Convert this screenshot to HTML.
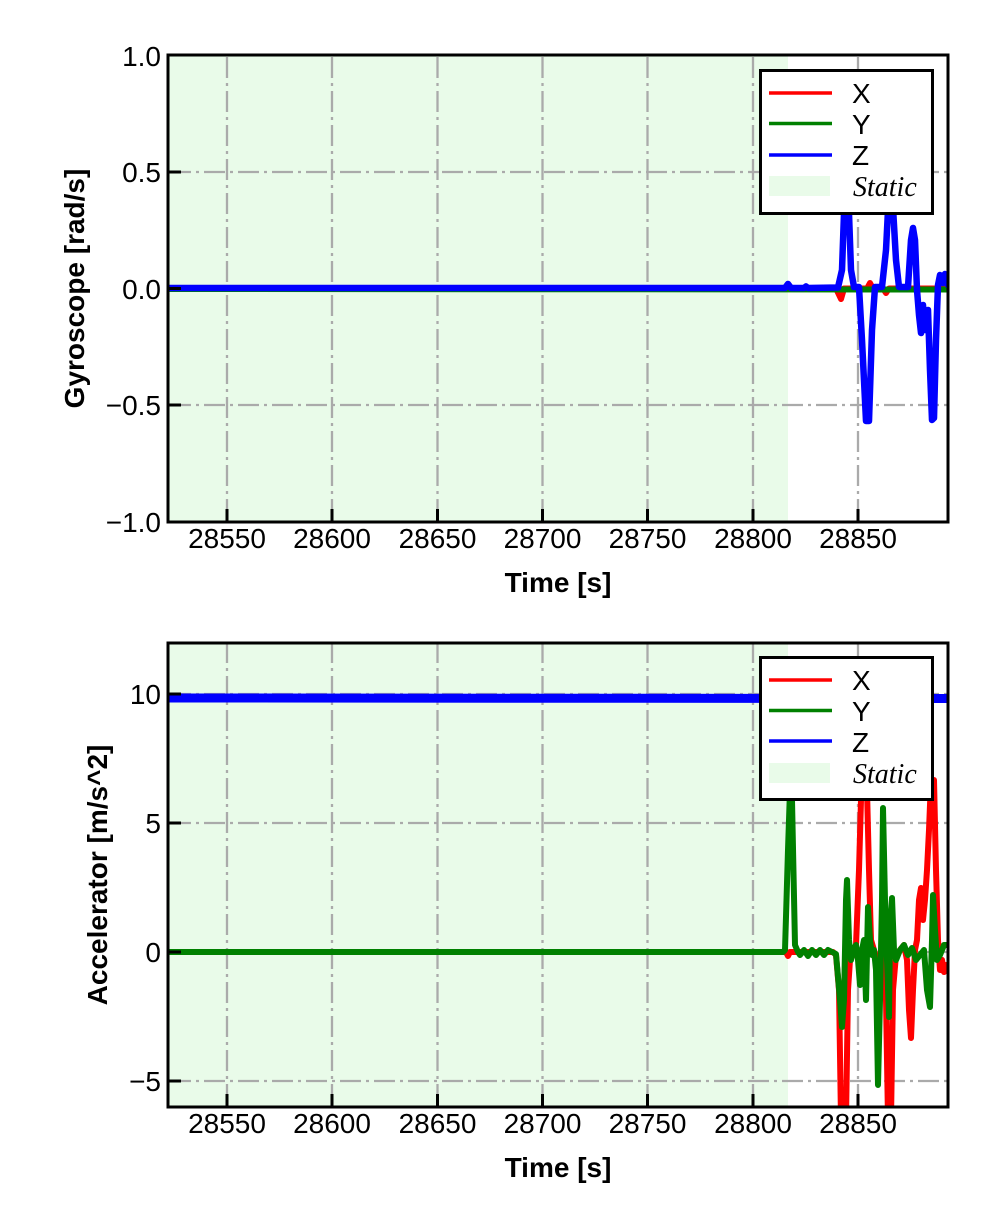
<!DOCTYPE html>
<html><head><meta charset="utf-8"><style>
html,body{margin:0;padding:0;background:#fff;}
svg{display:block;}
text{font-family:"Liberation Sans",Arial,sans-serif;fill:#000;}
.tl{font-size:28px;}
.lab{font-size:28px;font-weight:bold;}
.st{font-family:"Liberation Serif",serif;font-style:italic;font-size:28px;}
.grid{stroke:#aaaaaa;stroke-width:2.3;stroke-dasharray:21,5,3,5;stroke-dashoffset:-2;fill:none;}
.tick{stroke:#000;stroke-width:3;}
</style></head><body>
<svg width="992" height="1228" viewBox="0 0 992 1228" xmlns="http://www.w3.org/2000/svg">
<defs>
<clipPath id="c1"><rect x="168" y="55" width="780" height="467"/></clipPath>
<clipPath id="c2"><rect x="168" y="643" width="780" height="464"/></clipPath>
</defs>

<!-- ===== TOP PLOT ===== -->
<rect x="168" y="55" width="620" height="467" fill="#e9fbe9"/>
<g class="grid">
<line x1="227" y1="522" x2="227" y2="55"/>
<line x1="332" y1="522" x2="332" y2="55"/>
<line x1="437.5" y1="522" x2="437.5" y2="55"/>
<line x1="542.5" y1="522" x2="542.5" y2="55"/>
<line x1="647.5" y1="522" x2="647.5" y2="55"/>
<line x1="753" y1="522" x2="753" y2="55"/>
<line x1="858" y1="522" x2="858" y2="55"/>
<line x1="168" y1="172" x2="948" y2="172"/>
<line x1="168" y1="288.5" x2="948" y2="288.5"/>
<line x1="168" y1="405" x2="948" y2="405"/>
</g>
<g clip-path="url(#c1)" fill="none" stroke-linejoin="round" stroke-linecap="round">
<polyline stroke="#ff0000" stroke-width="6" points="168,288.5 836,288.5 841,299 844,288.5 867,288.5 870,283 873,288.5 883,288.5 886,293 889,288.5 948,288.5"/>
<polyline stroke="#008000" stroke-width="6" points="168,289 948,289.5"/>
<polyline stroke="#0000ff" stroke-width="6.5" points="168,288 785,288 788,284 791,288 804,288 806,286.5 808,288 838,287.5 842,270 845,185 848,185 851,270 854,287 859,287 862,340 866,421 869,421 872,330 875,287 882,287 886,250 889,190 892,190 896,260 899,287 908,287 911,240 913,228 915,240 917,290 919,315 921,333 923,305 925,330 928,310 930,370 932,420 934,418 936,340 938,285 940,275 942,278 943,283 945,274 947,280 948,285"/>
</g>
<rect x="168" y="55" width="780" height="467" fill="none" stroke="#000" stroke-width="3"/>
<g class="tick">
<line x1="227" y1="522" x2="227" y2="509"/>
<line x1="332" y1="522" x2="332" y2="509"/>
<line x1="437.5" y1="522" x2="437.5" y2="509"/>
<line x1="542.5" y1="522" x2="542.5" y2="509"/>
<line x1="647.5" y1="522" x2="647.5" y2="509"/>
<line x1="753" y1="522" x2="753" y2="509"/>
<line x1="858" y1="522" x2="858" y2="509"/>
<line x1="168" y1="55" x2="181" y2="55"/>
<line x1="168" y1="172" x2="181" y2="172"/>
<line x1="168" y1="288.5" x2="181" y2="288.5"/>
<line x1="168" y1="405" x2="181" y2="405"/>
<line x1="168" y1="522" x2="181" y2="522"/>
</g>
<g class="tl" text-anchor="end">
<text x="161" y="66">1.0</text>
<text x="161" y="182">0.5</text>
<text x="161" y="299">0.0</text>
<text x="161" y="415">−0.5</text>
<text x="161" y="532">−1.0</text>
</g>
<g class="tl" text-anchor="middle">
<text x="227" y="548">28550</text>
<text x="332" y="548">28600</text>
<text x="437.5" y="548">28650</text>
<text x="542.5" y="548">28700</text>
<text x="647.5" y="548">28750</text>
<text x="753" y="548">28800</text>
<text x="858" y="548">28850</text>
</g>
<text class="lab" x="558" y="592" text-anchor="middle">Time [s]</text>
<text class="lab" transform="translate(84,288.5) rotate(-90)" text-anchor="middle">Gyroscope [rad/s]</text>
<!-- legend top -->
<rect x="760.5" y="70.5" width="172" height="143" fill="#fff" stroke="#000" stroke-width="3"/>
<line x1="769" y1="93" x2="832" y2="93" stroke="#ff0000" stroke-width="3.5"/>
<line x1="769" y1="123.5" x2="832" y2="123.5" stroke="#008000" stroke-width="3.5"/>
<line x1="769" y1="155" x2="832" y2="155" stroke="#0000ff" stroke-width="3.5"/>
<rect x="769" y="176" width="61" height="20" fill="#e9fbe9"/>
<text class="tl" x="852" y="103">X</text>
<text class="tl" x="852" y="134">Y</text>
<text class="tl" x="852" y="165">Z</text>
<text class="st" x="853" y="196">Static</text>

<!-- ===== BOTTOM PLOT ===== -->
<rect x="168" y="643" width="620" height="464" fill="#e9fbe9"/>
<g class="grid">
<line x1="227" y1="1107" x2="227" y2="643"/>
<line x1="332" y1="1107" x2="332" y2="643"/>
<line x1="437.5" y1="1107" x2="437.5" y2="643"/>
<line x1="542.5" y1="1107" x2="542.5" y2="643"/>
<line x1="647.5" y1="1107" x2="647.5" y2="643"/>
<line x1="753" y1="1107" x2="753" y2="643"/>
<line x1="858" y1="1107" x2="858" y2="643"/>
<line x1="168" y1="694" x2="948" y2="694"/>
<line x1="168" y1="823" x2="948" y2="823"/>
<line x1="168" y1="952" x2="948" y2="952"/>
<line x1="168" y1="1081" x2="948" y2="1081"/>
</g>
<g clip-path="url(#c2)" fill="none" stroke-linejoin="round" stroke-linecap="round">
<polyline stroke="#0000ff" stroke-width="9" points="168,698 948,698.5"/>
<polyline stroke="#ff0000" stroke-width="6" points="168,952 786,952 788,956 790,952 833,952 836,955 839,990 841,1120 846,1120 848,990 850,960 853,955 856,945 859,870 861,800 864,780 867,790 869,870 871,940 874,950 877,960 880,955 883,950 886,1000 888,1120 891,1120 893,990 896,955 900,950 904,945 907,960 909,1010 911,1038 913,990 915,950 917,940 919,900 921,888 923,920 925,900 927,870 929,830 931,780 934,780 936,870 938,940 940,970 942,960 944,972 946,965 948,970"/>
<polyline stroke="#008000" stroke-width="6" points="168,952 783,952 785,950 788,850 790,790 792,800 795,945 798,952 800,955 804,950 808,956 812,950 816,955 820,950 824,955 828,950 832,952 836,954 840,1000 842,1027 844,1000 846,900 847,880 849,940 851,960 853,950 856,945 858,960 860,985 862,950 864,940 866,1000 868,907 870,940 872,955 874,950 876,970 878,1085 880,1000 882,900 883,808 885,900 887,960 889,1017 890,930 892,898 894,950 896,960 900,950 904,945 908,955 912,948 916,960 920,955 924,950 927,990 930,1007 932,940 933,895 935,930 937,960 940,955 944,945 948,945"/>
</g>
<rect x="168" y="643" width="780" height="464" fill="none" stroke="#000" stroke-width="3"/>
<g class="tick">
<line x1="227" y1="1107" x2="227" y2="1094"/>
<line x1="332" y1="1107" x2="332" y2="1094"/>
<line x1="437.5" y1="1107" x2="437.5" y2="1094"/>
<line x1="542.5" y1="1107" x2="542.5" y2="1094"/>
<line x1="647.5" y1="1107" x2="647.5" y2="1094"/>
<line x1="753" y1="1107" x2="753" y2="1094"/>
<line x1="858" y1="1107" x2="858" y2="1094"/>
<line x1="168" y1="694" x2="181" y2="694"/>
<line x1="168" y1="823" x2="181" y2="823"/>
<line x1="168" y1="952" x2="181" y2="952"/>
<line x1="168" y1="1081" x2="181" y2="1081"/>
</g>
<g class="tl" text-anchor="end">
<text x="161" y="704">10</text>
<text x="161" y="833">5</text>
<text x="161" y="962">0</text>
<text x="161" y="1091">−5</text>
</g>
<g class="tl" text-anchor="middle">
<text x="227" y="1133">28550</text>
<text x="332" y="1133">28600</text>
<text x="437.5" y="1133">28650</text>
<text x="542.5" y="1133">28700</text>
<text x="647.5" y="1133">28750</text>
<text x="753" y="1133">28800</text>
<text x="858" y="1133">28850</text>
</g>
<text class="lab" x="558" y="1177" text-anchor="middle">Time [s]</text>
<text class="lab" transform="translate(107,875) rotate(-90)" text-anchor="middle">Accelerator [m/s^2]</text>
<!-- legend bottom -->
<rect x="760.5" y="657.5" width="172" height="142" fill="#fff" stroke="#000" stroke-width="3"/>
<line x1="769" y1="680" x2="832" y2="680" stroke="#ff0000" stroke-width="3.5"/>
<line x1="769" y1="710.5" x2="832" y2="710.5" stroke="#008000" stroke-width="3.5"/>
<line x1="769" y1="741" x2="832" y2="741" stroke="#0000ff" stroke-width="3.5"/>
<rect x="769" y="763" width="61" height="20" fill="#e9fbe9"/>
<text class="tl" x="852" y="690">X</text>
<text class="tl" x="852" y="721">Y</text>
<text class="tl" x="852" y="752">Z</text>
<text class="st" x="853" y="783">Static</text>
</svg>
</body></html>
